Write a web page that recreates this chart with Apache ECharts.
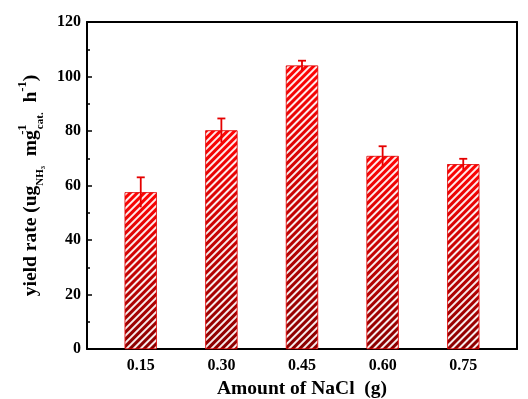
<!DOCTYPE html>
<html>
<head>
<meta charset="utf-8">
<script src="https://cdn.jsdelivr.net/npm/echarts@6/dist/echarts.min.js"></script>
<style>html,body{margin:0;padding:0;background:#fff;}#c{width:528px;height:399px;}</style>
</head>
<body>
<div id="c"></div>
<script>
const amounts = [0.15, 0.30, 0.45, 0.60, 0.75];
const yieldRate = [57.5, 80.2, 104.0, 70.8, 67.8];
const errors = [5.5, 4.4, 1.8, 3.6, 2.0];
const yTicks = [0, 20, 40, 60, 80, 100, 120];

const FONT = '"Liberation Serif", "Times New Roman", serif';
const chart = echarts.init(document.getElementById('c'));

const barData = amounts.map((a, i) => [a, yieldRate[i]]);
const errData = amounts.map((a, i) => [a, yieldRate[i], errors[i]]);

chart.setOption({
  backgroundColor: '#fff',
  animation: false,
  grid: { left: 87, right: 11, top: 22, bottom: 50, containLabel: false, outerBoundsMode: 'none' },
  xAxis: [{
    type: 'value', min: 0.05, max: 0.85, interval: 0.05,
    axisLine: { onZero: false, lineStyle: { color: '#000', width: 2 } },
    axisTick: { show: false },
    splitLine: { show: false },
    axisLabel: {
      margin: 9, color: '#000', fontFamily: FONT, fontWeight: 'bold', fontSize: 16,
      formatter: v => amounts.some(a => Math.abs(a - v) < 1e-6) ? v.toFixed(2) : ''
    },
    name: 'Amount of NaCl  (g)', nameLocation: 'middle', nameGap: 23,
    nameTextStyle: { color: '#000', fontFamily: FONT, fontWeight: 'bold', fontSize: 19.5 }
  }, {
    type: 'value', position: 'top', min: 0.05, max: 0.85, interval: 0.05,
    axisLine: { show: true, onZero: false, lineStyle: { color: '#000', width: 2 } },
    axisTick: { show: false }, axisLabel: { show: false }, splitLine: { show: false }
  }],
  yAxis: [{
    type: 'value', min: 0, max: 120, interval: 20,
    axisLine: { show: true, onZero: false, lineStyle: { color: '#000', width: 2 } },
    axisTick: { show: true, inside: true, length: 5, lineStyle: { color: '#000', width: 1.5 } },
    minorTick: { show: true, splitNumber: 2, length: 3, lineStyle: { color: '#000', width: 1.5 } },
    splitLine: { show: false },
    axisLabel: { margin: 6, color: '#000', fontFamily: FONT, fontWeight: 'bold', fontSize: 16 },
    name: '{n|yield rate (ug}{sub|NH₃}{n|  mg}{supz|-1}{sub|cat.}{n|  h}{sup|-1}{n|)}',
    nameLocation: 'middle', nameGap: 35, nameRotate: 90,
    nameTextStyle: {
      color: '#000', fontFamily: FONT, fontWeight: 'bold',
      rich: {
        n: { fontFamily: FONT, fontWeight: 'bold', fontSize: 19.5, color: '#000', lineHeight: 30, verticalAlign: 'middle' },
        sub: { fontFamily: FONT, fontWeight: 'bold', fontSize: 11, color: '#000', lineHeight: 11, verticalAlign: 'bottom' },
        sup: { fontFamily: FONT, fontWeight: 'bold', fontSize: 12.5, color: '#000', lineHeight: 12, verticalAlign: 'top' },
        supz: { fontFamily: FONT, fontWeight: 'bold', fontSize: 12.5, color: '#000', lineHeight: 12, verticalAlign: 'top', width: 1 }
      }
    }
  }, {
    type: 'value', position: 'right', min: 0, max: 120, interval: 20,
    axisLine: { show: true, onZero: false, lineStyle: { color: '#000', width: 2 } },
    axisTick: { show: false }, axisLabel: { show: false }, splitLine: { show: false }
  }],
  series: [{
    type: 'bar',
    data: barData,
    barWidth: 32,
    itemStyle: {
      color: new echarts.graphic.LinearGradient(0, 0, 0, 1, [
        { offset: 0, color: '#ff0505' },
        { offset: 1, color: '#8a0000' }
      ]),
      borderColor: '#e00000', borderWidth: 0.6,
      decal: {
        symbol: 'rect', symbolSize: 1, color: 'rgba(255,255,255,0.92)',
        dashArrayX: [1, 0], dashArrayY: [1.5, 3], rotation: -Math.PI / 4
      }
    },
    z: 2
  }, {
    type: 'custom',
    data: errData,
    z: 5,
    renderItem: function (params, api) {
      const x = api.value(0), v = api.value(1), e = api.value(2);
      const top = api.coord([x, v + e]);
      const bot = api.coord([x, v - e]);
      const hw = 4;
      return {
        type: 'group',
        children: [
          { type: 'line', shape: { x1: top[0], y1: top[1], x2: bot[0], y2: bot[1] },
            style: { stroke: '#e50000', lineWidth: 1.8 } },
          { type: 'line', shape: { x1: top[0] - hw, y1: top[1], x2: top[0] + hw, y2: top[1] },
            style: { stroke: '#e50000', lineWidth: 1.8 } }
        ]
      };
    }
  }]
});
</script>
</body>
</html>
